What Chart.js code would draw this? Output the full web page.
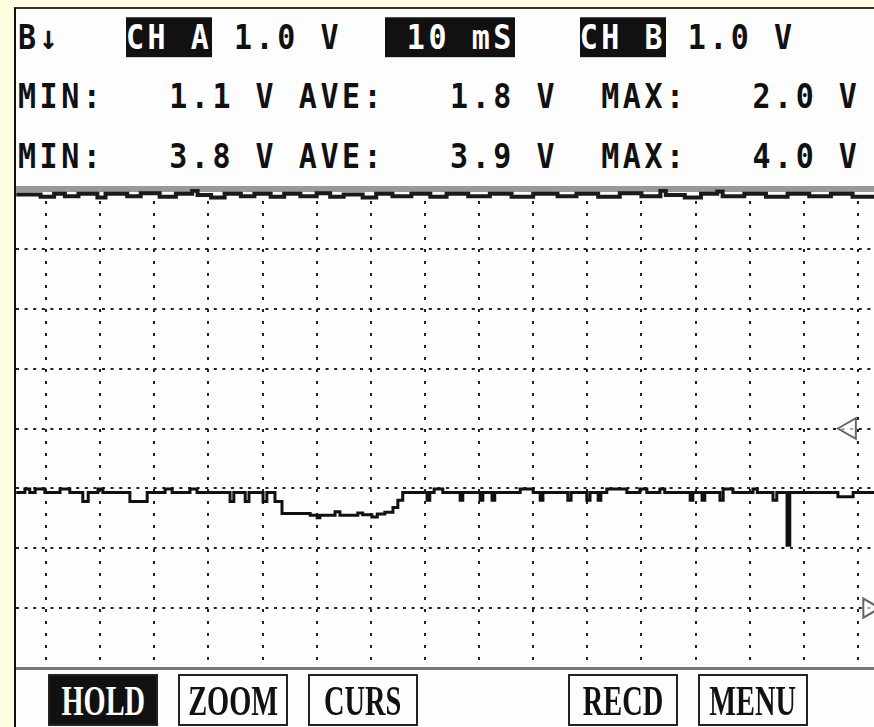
<!DOCTYPE html>
<html>
<head>
<meta charset="utf-8">
<script src="https://cdn.jsdelivr.net/npm/chart.js@4.4.1/dist/chart.umd.min.js"></script>
<style>
  html, body { margin: 0; padding: 0; }
  body { width: 874px; height: 727px; background: #fffde1; position: relative; overflow: hidden; }
  #panel {
    position: absolute; left: 14px; top: 7px; width: 860px; height: 720px;
    background: #fdfdfd; border-left: 2px solid #111; border-top: 2px solid #333;
    box-sizing: border-box;
  }
  .row {
    position: absolute; left: 18px; white-space: pre; color: #111;
    font: bold 30px "DejaVu Sans Mono", monospace; letter-spacing: 3.54px; line-height: 40px;
    font-variant-numeric: slashed-zero;
    transform: scaleY(1.14); transform-origin: 0 0;
  }
  .inv { background: #111; color: #fff; }
  .btn {
    position: absolute; top: 674px; width: 110px; height: 52px; box-sizing: border-box;
    border: 2px solid #222; display: flex; align-items: center; justify-content: center;
    background: #fdfdfd; color: #111;
  }
  .btn span { font: bold 43px "Liberation Serif", serif; transform: scaleX(0.66); display: inline-block; }
  .btn.on { background: #111; color: #fff; }
  #scope { position: absolute; left: 16px; top: 180px; }
</style>
</head>
<body>
<div id="panel"></div>
<div class="row" id="row1" style="top:15px"></div>
<div class="row" id="row2" style="top:74px"></div>
<div class="row" id="row3" style="top:134px"></div>
<canvas id="scope" width="858" height="496"></canvas>
<div id="buttons"></div>

<script>
// scope settings
const voltsPerDivA = 1.0
const voltsPerDivB = 1.0
const msPerDiv = 10

// MIN / AVE / MAX readouts
const statsA = [1.1, 1.8, 2.0]
const statsB = [3.8, 3.9, 4.0]

// soft keys (empty slot between CURS and RECD)
const softKeys = ["HOLD", "ZOOM", "CURS", "", "RECD", "MENU"]

// channel A trace: each value holds from its time until the next one (ms, V)
const timeA = [-5.5, -3.9, -3.0, -2.0, -0.2, 2.6, 4.4, 6.8, 7.8, 9.6, 10.5, 15.5, 18.7,
  22.0, 23.3, 26.6, 27.9, 34.0, 34.7, 36.8, 37.5, 40.1, 40.8, 42.3, 43.6, 48.8, 50.1,
  50.6, 53.4, 54.3, 57.6, 58.5, 60.2, 61.2, 62.6, 64.1, 65.0, 65.9, 70.4, 70.9, 71.7,
  73.3, 76.5, 77.0, 80.2, 80.7, 82.4, 82.9, 87.6, 90.0, 91.3, 91.8, 96.4, 97.0, 99.9,
  100.5, 102.0, 102.5, 103.6, 107.3, 109.7, 111.0, 113.4, 114.3, 119.0, 119.5, 121.2,
  121.7, 124.5, 125.1, 126.9, 130.6, 131.4, 134.3, 135.0, 136.9, 137.4, 146.3, 149.1, 153.0]
const voltA = [1.93, 1.99, 1.93, 1.99, 1.93, 1.99, 1.93, 1.78, 1.93, 1.99, 1.93, 1.78, 1.93,
  1.99, 1.93, 1.99, 1.93, 1.78, 1.93, 1.78, 1.93, 1.78, 1.93, 1.78, 1.58, 1.55, 1.51,
  1.55, 1.61, 1.55, 1.59, 1.56, 1.52, 1.57, 1.60, 1.68, 1.80, 1.93, 1.80, 1.93, 1.99,
  1.93, 1.80, 1.93, 1.80, 1.93, 1.80, 1.93, 1.99, 1.93, 1.80, 1.93, 1.80, 1.93, 1.80,
  1.93, 1.80, 1.93, 1.99, 1.93, 1.99, 1.93, 1.99, 1.93, 1.80, 1.93, 1.80,
  1.93, 1.80, 1.99, 1.93, 1.99, 1.93, 1.80, 1.93, 1.05, 1.93, 1.86, 1.93, 1.93]

// channel B trace (ms, V)
const timeB = [-5.5, -1.0, 1.5, 3.5, 6.0, 9.5, 11.0, 15.0, 17.5, 21.0, 24.0, 27.0, 28.0,
  30.5, 33.0, 36.0, 38.5, 41.5, 44.0, 47.0, 50.0, 52.5, 55.0, 58.5, 61.0, 64.0, 67.5,
  71.0, 74.0, 78.0, 82.0, 86.0, 90.0, 94.5, 98.0, 102.0, 106.0, 110.0, 113.5, 114.5,
  118.0, 121.0, 124.0, 125.0, 129.0, 133.0, 137.0, 141.0, 145.0, 149.0, 153.0]
const voltB = [3.91, 3.87, 3.92, 3.88, 3.92, 3.86, 3.92, 3.88, 3.93, 3.87, 3.92, 3.97, 3.90,
  3.86, 3.92, 3.88, 3.92, 3.87, 3.92, 3.88, 3.93, 3.87, 3.91, 3.86, 3.92, 3.88, 3.92,
  3.87, 3.92, 3.88, 3.92, 3.87, 3.92, 3.88, 3.92, 3.87, 3.93, 3.88, 3.97, 3.90,
  3.86, 3.92, 3.96, 3.88, 3.92, 3.87, 3.92, 3.88, 3.92, 3.87, 3.90]

// ground reference markers (ms on the time axis)
const groundMarkB = 148.5
const groundMarkA = 152.0

// grid: 16 time divisions, 8 vertical divisions
const gridTimes = []
for (let t = 0; t <= 150; t += msPerDiv) gridTimes.push(t)
const gridDivs = [0, 1, 2, 3, 4, 5, 6]

function fmt(v) { return v.toFixed(1) }

const inv = s => '<span class="inv">' + s + '</span>'
document.getElementById("row1").innerHTML =
  "B\u2193   " + inv("CH A") + " " + fmt(voltsPerDivA) + " V  " + inv(" " + msPerDiv + " mS") +
  "   " + inv("CH B") + " " + fmt(voltsPerDivB) + " V"

function statRow(s) {
  return "MIN:   " + fmt(s[0]) + " V AVE:   " + fmt(s[1]) + " V  MAX:   " + fmt(s[2]) + " V"
}
document.getElementById("row2").textContent = statRow(statsA)
document.getElementById("row3").textContent = statRow(statsB)

const btnWrap = document.getElementById("buttons")
softKeys.forEach((k, i) => {
  if (!k) return
  const d = document.createElement("div")
  d.className = "btn" + (k === "HOLD" ? " on" : "")
  d.style.left = (48 + 130 * i) + "px"
  d.innerHTML = "<span>" + k + "</span>"
  btnWrap.appendChild(d)
})

const toPoints = (ts, vs) => ts.map((t, i) => ({ x: t, y: vs[i] }))

const xMin = -5.54
const xMax = 152.96

new Chart(document.getElementById("scope"), {
  type: "line",
  data: {
    datasets: [
      {
        label: "CH A",
        data: toPoints(timeA, voltA),
        yAxisID: "yA",
        borderColor: "#111",
        borderWidth: 3,
        stepped: true,
        pointRadius: 0
      },
      {
        label: "CH B",
        data: toPoints(timeB, voltB),
        yAxisID: "yB",
        borderColor: "#1a1a1a",
        borderWidth: 4,
        stepped: true,
        pointRadius: 0
      },
      {
        label: "GND B",
        data: [{ x: groundMarkB, y: 0 }],
        yAxisID: "yB",
        showLine: false,
        pointStyle: "triangle",
        rotation: -90,
        pointRadius: 12,
        borderWidth: 2,
        borderColor: "#666",
        backgroundColor: "rgba(255,255,255,0.6)"
      },
      {
        label: "GND A",
        data: [{ x: groundMarkA, y: 0 }],
        yAxisID: "yA",
        showLine: false,
        pointStyle: "triangle",
        rotation: 90,
        pointRadius: 11,
        borderWidth: 2,
        borderColor: "#666",
        backgroundColor: "rgba(255,255,255,0.6)",
        clip: false
      }
    ]
  },
  options: {
    responsive: false,
    animation: false,
    layout: { autoPadding: false, padding: { top: 9, bottom: 8, left: 0, right: 0 } },
    plugins: { legend: { display: false }, tooltip: { enabled: false } },
    scales: {
      x: {
        type: "linear",
        position: "bottom",
        min: xMin,
        max: xMax,
        afterBuildTicks: s => { s.ticks = gridTimes.map(v => ({ value: v })) },
        ticks: { display: false },
        grid: { color: "#222", lineWidth: 2, drawTicks: false },
        border: { display: true, color: "#777", width: 3, dash: [3, 9] }
      },
      xTop: {
        type: "linear",
        position: "top",
        min: xMin,
        max: xMax,
        ticks: { display: false },
        grid: { display: false, drawTicks: false },
        border: { display: true, color: "#999", width: 6 }
      },
      yA: {
        type: "linear",
        position: "left",
        min: -1,
        max: 7,
        afterBuildTicks: s => { s.ticks = gridDivs.map(v => ({ value: v })) },
        ticks: { display: false },
        grid: { color: "#222", lineWidth: 2, drawTicks: false },
        border: { display: false, dash: [3, 5.6] }
      },
      yB: {
        type: "linear",
        display: false,
        min: -4,
        max: 4
      }
    }
  }
})
</script>
</body>
</html>
